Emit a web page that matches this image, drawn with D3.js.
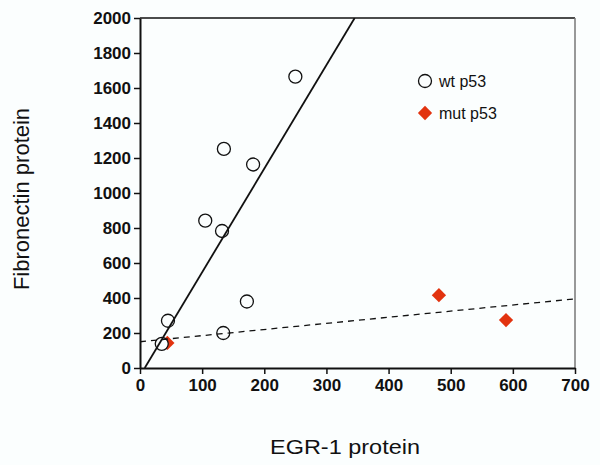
<!DOCTYPE html>
<html>
<head>
<meta charset="utf-8">
<script src="https://cdn.jsdelivr.net/npm/d3@7"></script>
<style>
  body { margin: 0; background: #fbfefe; }
  svg { display: block; font-family: Arial, 'Liberation Sans', sans-serif; }
  .tick text { font-family: Arial, 'Liberation Sans', sans-serif; font-weight: bold; font-size: 17px; fill: #111; }
</style>
</head>
<body>
<svg id="chart" width="600" height="465"></svg>
<script>
// wt p53 samples (EGR-1 protein, fibronectin protein)
const wtX = [250, 135, 182, 105, 132, 172, 45, 134, 35]
const wtY = [1665, 1252, 1163, 842, 783, 380, 270, 200, 138]
// mut p53 samples
const mutX = [44, 481, 589]
const mutY = [143, 416, 274]
// fitted lines: [slope, intercept]
const wtFit = [5.92, -45]
const mutFit = [0.35, 150]
const xTicks = [0, 100, 200, 300, 400, 500, 600, 700]
const yTicks = [0, 200, 400, 600, 800, 1000, 1200, 1400, 1600, 1800, 2000]

const margin = { left: 140, top: 18, right: 25, bottom: 97 }
const width = 600 - margin.left - margin.right
const height = 465 - margin.top - margin.bottom

const svg = d3.select('#chart')
const g = svg.append('g').attr('transform', `translate(${margin.left}, ${margin.top})`)

const x = d3.scaleLinear().domain([0, 700]).range([0, width])
const y = d3.scaleLinear().domain([0, 2000]).range([height, 0])

// frame top / right
g.append('line').attr('x1', 0).attr('x2', width).attr('y1', 0).attr('y2', 0)
  .attr('stroke', '#111').attr('stroke-width', 1.5)
g.append('line').attr('x1', width).attr('x2', width).attr('y1', 0).attr('y2', height)
  .attr('stroke', '#777').attr('stroke-width', 1.5)

// diamonds first, circles drawn over them
const mut = mutX.map((v, i) => ({ x: v, y: mutY[i] }))
const wt = wtX.map((v, i) => ({ x: v, y: wtY[i] }))

g.selectAll('path.mut').data(mut).enter().append('path')
  .attr('class', 'mut')
  .attr('d', d3.symbol(d3.symbolDiamond2, 130))
  .attr('transform', d => `translate(${x(d.x)}, ${y(d.y)})`)
  .attr('fill', '#e2330f')

g.selectAll('circle.wt').data(wt).enter().append('circle')
  .attr('class', 'wt')
  .attr('cx', d => x(d.x)).attr('cy', d => y(d.y)).attr('r', 6.5)
  .attr('fill', '#fbfefe').attr('stroke', '#111').attr('stroke-width', 1.3)

// regression lines, clipped to the plot
g.append('clipPath').attr('id', 'clip').append('rect')
  .attr('width', width).attr('height', height)
const fitLine = (fit, dash) => {
  const x0 = Math.max(0, -fit[1] / fit[0])
  const x1 = Math.min(700, (2000 - fit[1]) / fit[0])
  g.append('line')
    .attr('clip-path', 'url(#clip)')
    .attr('x1', x(x0)).attr('y1', y(fit[0] * x0 + fit[1]))
    .attr('x2', x(x1)).attr('y2', y(fit[0] * x1 + fit[1]))
    .attr('stroke', '#111').attr('stroke-width', dash ? 1.3 : 1.8)
    .attr('stroke-dasharray', dash ? '6,5' : null)
}
fitLine(wtFit, false)
fitLine(mutFit, true)

// axes
const xAxis = g.append('g').attr('transform', `translate(0, ${height})`)
  .call(d3.axisBottom(x).tickValues(xTicks).tickFormat(d3.format('d'))
    .tickSize(6).tickPadding(5).tickSizeOuter(0))
const yAxis = g.append('g')
  .call(d3.axisLeft(y).tickValues(yTicks).tickFormat(d3.format('d'))
    .tickSize(6).tickPadding(3).tickSizeOuter(0))
;[xAxis, yAxis].forEach(a => {
  a.select('.domain').attr('stroke', '#111').attr('stroke-width', 2)
  a.selectAll('.tick line').attr('stroke', '#111').attr('stroke-width', 1.5)
})

// legend
const legend = svg.append('g').attr('transform', 'translate(425, 81)')
legend.append('circle').attr('r', 6.5).attr('fill', '#fbfefe')
  .attr('stroke', '#111').attr('stroke-width', 1.3)
legend.append('text').attr('x', 14).attr('y', 6).attr('font-size', 16).attr('fill', '#111').text('wt p53')
legend.append('path').attr('d', d3.symbol(d3.symbolDiamond2, 130))
  .attr('transform', 'translate(0, 32)').attr('fill', '#e2330f')
legend.append('text').attr('x', 14).attr('y', 38).attr('font-size', 16).attr('fill', '#111').text('mut p53')

// axis titles
svg.append('text').attr('x', 345).attr('y', 454).attr('text-anchor', 'middle')
  .attr('font-size', 21).attr('textLength', 150).attr('lengthAdjust', 'spacingAndGlyphs')
  .attr('fill', '#111').text('EGR-1 protein')
svg.append('text').attr('transform', 'translate(29, 199) rotate(-90)').attr('text-anchor', 'middle')
  .attr('font-size', 22).attr('fill', '#111').text('Fibronectin protein')
</script>
</body>
</html>
